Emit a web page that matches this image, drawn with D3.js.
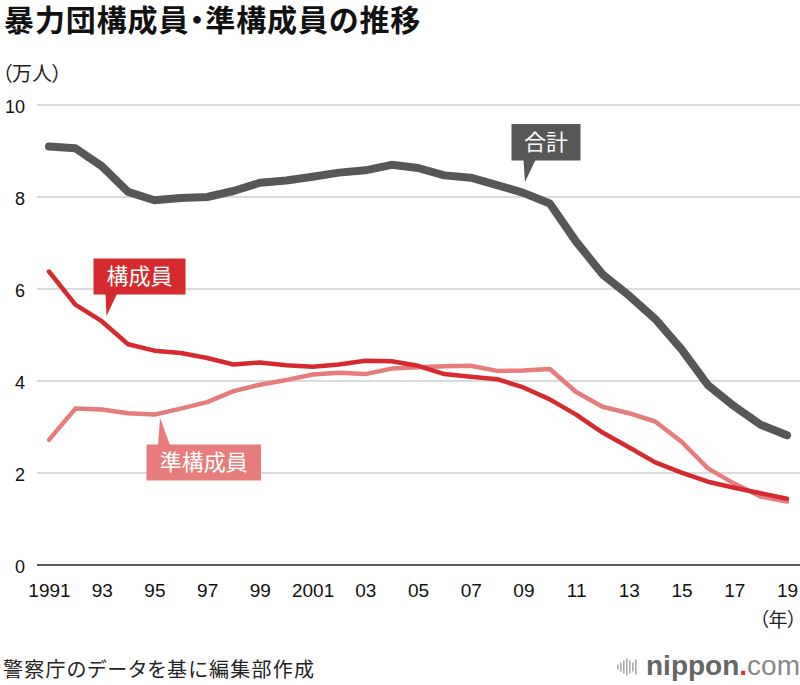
<!DOCTYPE html>
<html>
<head>
<meta charset="utf-8">
<script src="https://cdn.jsdelivr.net/npm/d3@7"></script>
<style>
  html, body { margin: 0; padding: 0; background: #fff; }
  svg { display: block; }
  .jp { font-family: "Noto Sans CJK JP", "Noto Sans", sans-serif; font-feature-settings: "palt"; }
  .num { font-family: "Liberation Sans", Arial, sans-serif; }
</style>
</head>
<body>
<svg id="chart" width="800" height="685"></svg>
<script>
const years = d3.range(1991, 2020);
const totalValues = [9.10, 9.06, 8.67, 8.11, 7.93, 7.98, 8.00, 8.13, 8.31, 8.36, 8.44, 8.53, 8.58, 8.70, 8.63, 8.47, 8.42, 8.26, 8.09, 7.86, 7.03, 6.32, 5.86, 5.35, 4.69, 3.91, 3.45, 3.05, 2.82];
const memberValues = [6.38, 5.66, 5.30, 4.80, 4.66, 4.61, 4.50, 4.36, 4.40, 4.34, 4.31, 4.36, 4.44, 4.43, 4.33, 4.15, 4.09, 4.04, 3.86, 3.60, 3.27, 2.88, 2.56, 2.23, 2.01, 1.81, 1.68, 1.56, 1.44];
const associateValues = [2.72, 3.40, 3.38, 3.30, 3.27, 3.40, 3.54, 3.78, 3.92, 4.02, 4.14, 4.18, 4.15, 4.27, 4.30, 4.32, 4.33, 4.22, 4.23, 4.26, 3.76, 3.44, 3.30, 3.12, 2.68, 2.10, 1.77, 1.49, 1.38];
const yTicks = [0, 2, 4, 6, 8, 10];
const xTickYears = [1991, 1993, 1995, 1997, 1999, 2001, 2003, 2005, 2007, 2009, 2011, 2013, 2015, 2017, 2019];
const xTickLabels = ["1991", "93", "95", "97", "99", "2001", "03", "05", "07", "09", "11", "13", "15", "17", "19"];
const seriesNames = ["合計", "構成員", "準構成員"];

const svg = d3.select("#chart");
const x = d3.scaleLinear().domain([1991, 2019]).range([49, 787]);
const y = d3.scaleLinear().domain([0, 10]).range([565, 105]);

const C_TOTAL = "#575757", C_MEM = "#d52b2e", C_ASSOC = "#e67c7c";

// title
svg.append("text").attr("class", "jp").attr("x", 4).attr("y", 31)
  .attr("font-size", 30).attr("font-weight", "bold").attr("fill", "#111")
  .attr("letter-spacing", 0.9)
  .text("暴力団構成員・準構成員の推移");
svg.append("text").attr("class", "jp").attr("x", 2).attr("y", 81)
  .attr("font-size", 20).attr("fill", "#222").text("（万人）");

// gridlines
const grid = svg.append("g");
grid.selectAll("line").data(yTicks).join("line")
  .attr("x1", 37).attr("x2", 800)
  .attr("y1", d => y(d)).attr("y2", d => y(d))
  .attr("stroke", d => d === 0 ? "#222" : "#cfcfcf")
  .attr("stroke-width", d => d === 0 ? 1.6 : 1.5);

// y axis labels
const yAxis = d3.axisLeft(y).tickValues(yTicks).tickSize(0).tickPadding(0).tickFormat(d3.format("d"));
const gy = svg.append("g").attr("transform", "translate(25,0)").call(yAxis);
gy.select(".domain").remove();
gy.selectAll("text").attr("class", "num").attr("font-size", 18).attr("fill", "#111")
  .attr("dy", "0.42em");

// x axis labels
const xAxis = d3.axisBottom(x).tickValues(xTickYears).tickSize(0).tickPadding(0)
  .tickFormat((d, i) => xTickLabels[i]);
const gx = svg.append("g").attr("transform", "translate(0,583)").call(xAxis);
gx.select(".domain").remove();
gx.selectAll("text").attr("class", "num").attr("font-size", 19).attr("fill", "#111").attr("dy", "0.72em");

svg.append("text").attr("class", "jp").attr("x", 797).attr("y", 627)
  .attr("text-anchor", "end").attr("font-size", 19).attr("fill", "#222").text("（年）");

// lines
const line = d3.line().x((d, i) => x(years[i])).y(d => y(d));
svg.append("path").datum(totalValues).attr("d", line).attr("fill", "none")
  .attr("stroke", C_TOTAL).attr("stroke-width", 8).attr("stroke-linecap", "round").attr("stroke-linejoin", "round");
svg.append("path").datum(associateValues).attr("d", line).attr("fill", "none")
  .attr("stroke", C_ASSOC).attr("stroke-width", 4.5).attr("stroke-linecap", "round").attr("stroke-linejoin", "round");
svg.append("path").datum(memberValues).attr("d", line).attr("fill", "none")
  .attr("stroke", C_MEM).attr("stroke-width", 4.5).attr("stroke-linecap", "round").attr("stroke-linejoin", "round");

// callout labels
function callout(text, color, bx, by, bw, bh, p) {
  const g = svg.append("g");
  g.append("rect").attr("x", bx).attr("y", by).attr("width", bw).attr("height", bh).attr("fill", color);
  g.append("path").attr("d", `M${p[0][0]},${p[0][1]}L${p[1][0]},${p[1][1]}L${p[2][0]},${p[2][1]}Z`).attr("fill", color);
  g.append("text").attr("class", "jp").attr("x", bx + bw / 2).attr("y", by + bh / 2)
    .attr("dy", "0.36em").attr("text-anchor", "middle").attr("font-size", 22)
    .attr("fill", "#fff").text(text);
}
callout(seriesNames[0], C_TOTAL, 511.5, 124, 69, 36.5, [[523.5, 160], [535.5, 160], [525, 182]]);
callout(seriesNames[1], C_MEM, 93.5, 258.5, 92, 36, [[105.5, 294], [117, 294], [106.5, 316]]);
callout(seriesNames[2], C_ASSOC, 146.5, 444.5, 114.5, 36, [[158, 445], [170, 445], [160, 418]]);

// footer
svg.append("text").attr("class", "jp").attr("x", 3).attr("y", 677)
  .attr("font-size", 20).attr("letter-spacing", 1.3).attr("fill", "#222").text("警察庁のデータを基に編集部作成");

// logo
const bars = [5, 9, 13, 17, 13, 9, 15];
const logo = svg.append("g").attr("fill", "#aaa");
logo.selectAll("rect").data(bars).join("rect")
  .attr("x", (d, i) => 617 + i * 3).attr("y", d => 667 - d / 2).attr("width", 1.6).attr("height", d => d);
const lt = svg.append("text").attr("x", 646).attr("y", 675).attr("font-family", "'Liberation Sans', Arial, sans-serif").attr("font-size", 28);
lt.append("tspan").attr("font-weight", "bold").attr("fill", "#666").text("nippon");
lt.append("tspan").attr("font-weight", "bold").attr("fill", "#e8262d").text(".");
lt.append("tspan").attr("fill", "#888").text("com");
</script>
</body>
</html>
